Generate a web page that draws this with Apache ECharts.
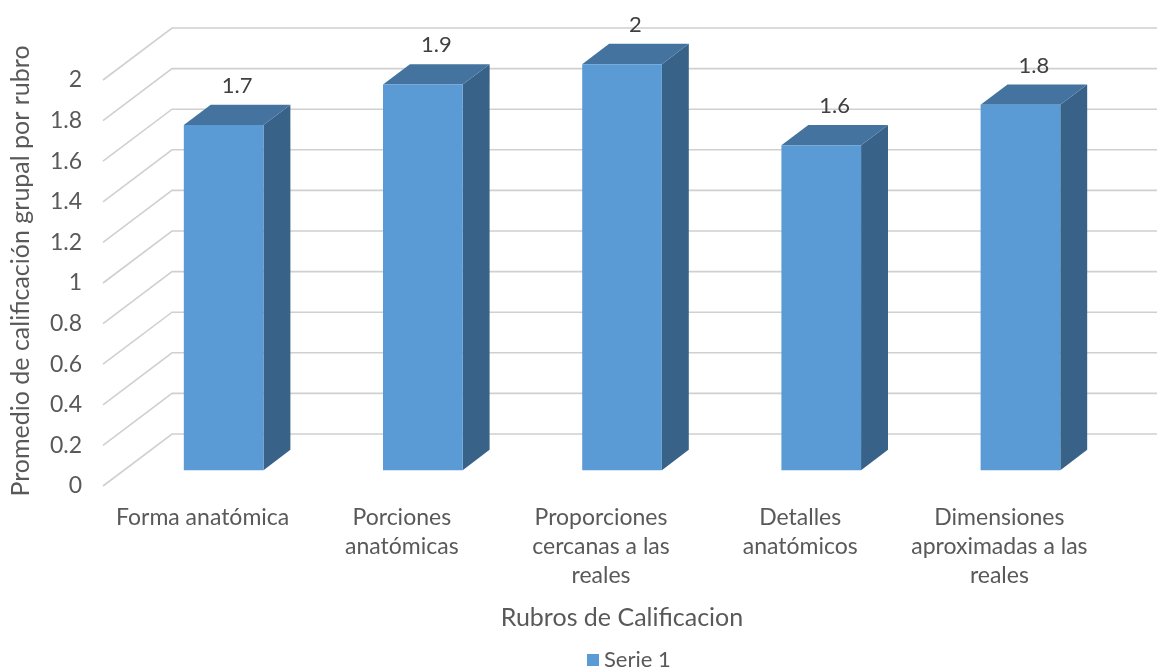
<!DOCTYPE html>
<html>
<head>
<meta charset="utf-8">
<script src="https://cdn.jsdelivr.net/npm/echarts@6/dist/echarts.min.js"></script>
<style>
  html, body { margin: 0; padding: 0; background: #ffffff; }
  #chart { width: 1157px; height: 668px; }
</style>
</head>
<body>
<div id="chart"></div>
<script>
// Categories, values and tick labels
const categories = [
  'Forma anatómica',
  'Porciones\nanatómicas',
  'Proporciones\ncercanas a las\nreales',
  'Detalles\nanatómicos',
  'Dimensiones\naproximadas a las\nreales'
];
const values = [1.7, 1.9, 2, 1.6, 1.8];
const yTicks = [0, 0.2, 0.4, 0.6, 0.8, 1, 1.2, 1.4, 1.6, 1.8, 2];
const seriesName = 'Serie 1';
const xTitle = 'Rubros de Calificacion';
const yTitle = 'Promedio de calificación grupal por rubro';

// Oblique projection of the floor depth (front plane -> back wall)
const DEPTH_X = 69, DEPTH_Y = 52;
// Depth range occupied by each box, and its width within a category band
const BAR_Z0 = 0.305, BAR_Z1 = 0.695;
const BAR_WIDTH_RATIO = 0.4;

const FONT = 'Lato, sans-serif';
const TEXT = '#595959';
const FRONT = '#5B9BD5', TOP = '#44739F', SIDE = '#386288';
const GRID_LINE = '#D0D0D0';

// Gridlines: a diagonal along the side wall, then a horizontal line on the back wall
function renderGridLine(params, api) {
  const v = api.value(1);
  const cs = params.coordSys;
  const y = api.coord([0, v])[1];
  const x0 = cs.x;
  return {
    type: 'polyline',
    silent: true,
    shape: { points: [[x0, y], [x0 + DEPTH_X, y - DEPTH_Y], [cs.x + cs.width + DEPTH_X + 300, y - DEPTH_Y]] },
    style: { stroke: GRID_LINE, lineWidth: 1.6, fill: null }
  };
}

// 3D box: front face, top face and right side face
function renderBox(params, api) {
  const idx = api.value(0), v = api.value(1);
  const top = api.coord([idx, v]);
  const base = api.coord([idx, 0]);
  const bw = api.size([1, 0])[0] * BAR_WIDTH_RATIO;
  const xl = top[0] - bw / 2, xr = top[0] + bw / 2;
  const fx = DEPTH_X * BAR_Z0, fy = DEPTH_Y * BAR_Z0;
  const bx = DEPTH_X * BAR_Z1, by = DEPTH_Y * BAR_Z1;
  const front = [[xl + fx, top[1] - fy], [xr + fx, top[1] - fy], [xr + fx, base[1] - fy], [xl + fx, base[1] - fy]];
  const topFace = [[xl + fx, top[1] - fy], [xl + bx, top[1] - by], [xr + bx, top[1] - by], [xr + fx, top[1] - fy]];
  const side = [[xr + fx, top[1] - fy], [xr + bx, top[1] - by], [xr + bx, base[1] - by], [xr + fx, base[1] - fy]];
  return {
    type: 'group',
    children: [
      { type: 'polygon', shape: { points: side }, style: { fill: SIDE } },
      { type: 'polygon', shape: { points: topFace }, style: { fill: TOP } },
      { type: 'polygon', shape: { points: front }, style: { fill: FRONT } },
      {
        type: 'text',
        x: top[0] + (fx + bx) / 2,
        y: top[1] - by - 8,
        style: {
          text: String(v),
          fill: '#404040',
          font: '22px ' + FONT,
          align: 'center',
          verticalAlign: 'bottom'
        }
      }
    ]
  };
}

const chart = echarts.init(document.getElementById('chart'), null, { renderer: 'canvas' });
chart.setOption({
  animation: false,
  color: [FRONT],
  textStyle: { fontFamily: FONT },
  grid: { left: 103, right: 58, top: 80, bottom: 182, containLabel: false },
  legend: {
    data: [{ name: seriesName, icon: 'rect' }],
    left: 582, top: 644,
    itemWidth: 12, itemHeight: 12, itemGap: 4,
    textStyle: { color: TEXT, fontSize: 22, fontFamily: FONT }
  },
  xAxis: {
    type: 'category',
    data: categories,
    axisLine: { show: false },
    axisTick: { show: false },
    splitLine: { show: false },
    axisLabel: {
      interval: 0, margin: 17, lineHeight: 29,
      color: TEXT, fontSize: 23, fontFamily: FONT, align: 'center'
    },
    name: xTitle,
    nameLocation: 'middle',
    nameGap: 119,
    nameTextStyle: { color: TEXT, fontSize: 25, fontFamily: FONT, padding: [0, 0, 0, 42] }
  },
  yAxis: {
    type: 'value',
    min: 0, max: 2, interval: 0.2,
    axisLine: { show: false },
    axisTick: { show: false },
    splitLine: { show: false },
    axisLabel: { margin: 21, color: TEXT, fontSize: 23, fontFamily: FONT },
    name: yTitle,
    nameLocation: 'middle',
    nameRotate: 90,
    nameGap: 70,
    nameTextStyle: { color: TEXT, fontSize: 25, fontFamily: FONT, padding: [0, 0, 0, 24] }
  },
  series: [
    {
      type: 'custom',
      name: 'grid',
      z: 1,
      silent: true,
      renderItem: renderGridLine,
      data: yTicks.map(v => [0, v])
    },
    {
      type: 'custom',
      name: seriesName,
      z: 2,
      itemStyle: { color: FRONT },
      renderItem: renderBox,
      data: values.map((v, i) => [i, v])
    }
  ]
});
</script>
</body>
</html>
